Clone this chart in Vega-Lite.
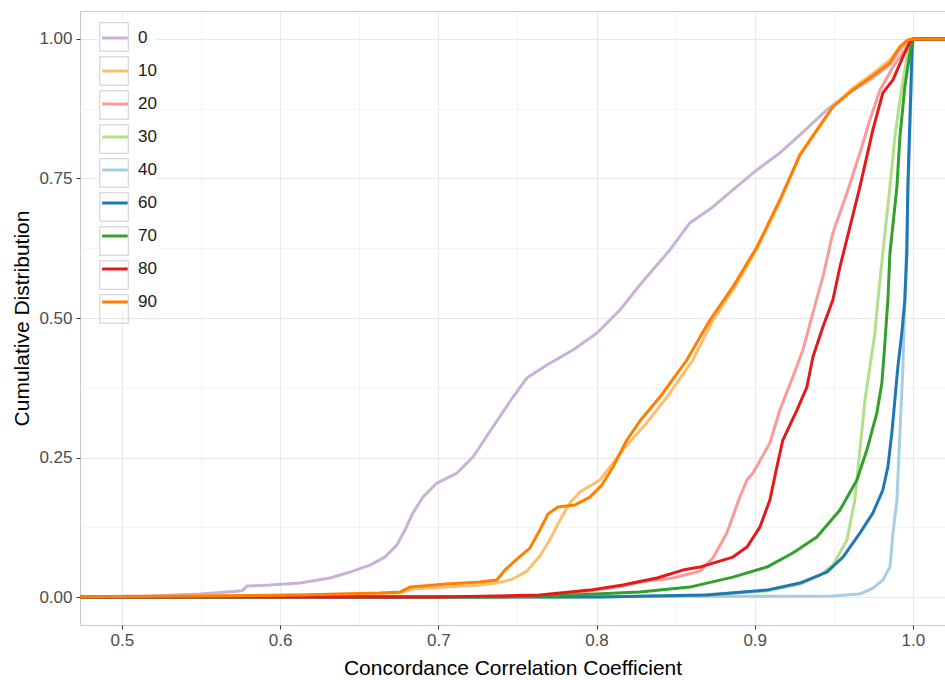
{
  "$schema": "https://vega.github.io/schema/vega-lite/v6.json",
  "autosize": "none",
  "width": 865,
  "height": 614,
  "padding": {"left": 80, "top": 11, "right": 0, "bottom": 55},
  "background": "white",
  "config": {
    "font": "Liberation Sans",
    "view": {"stroke": "#c8c8c8", "strokeWidth": 1}
  },
  "datasets": {
    "ecdf": [
      {"g":"0","x":0.45,"y":0},{"g":"0","x":0.5177,"y":0.0018},{"g":"0","x":0.5493,"y":0.0054},{"g":"0","x":0.5746,"y":0.0108},{"g":"0","x":0.5765,"y":0.0125},{"g":"0","x":0.579,"y":0.0197},{"g":"0","x":0.5936,"y":0.0215},{"g":"0","x":0.6125,"y":0.0251},{"g":"0","x":0.6315,"y":0.0341},{"g":"0","x":0.6441,"y":0.0448},{"g":"0","x":0.6568,"y":0.0573},{"g":"0","x":0.6662,"y":0.0717},{"g":"0","x":0.6738,"y":0.0932},{"g":"0","x":0.6789,"y":0.1201},{"g":"0","x":0.6839,"y":0.1505},{"g":"0","x":0.6903,"y":0.1792},{"g":"0","x":0.6991,"y":0.2043},{"g":"0","x":0.7118,"y":0.2222},{"g":"0","x":0.7219,"y":0.2509},{"g":"0","x":0.7345,"y":0.3047},{"g":"0","x":0.7472,"y":0.3584},{"g":"0","x":0.756,"y":0.3925},{"g":"0","x":0.7686,"y":0.4158},{"g":"0","x":0.7851,"y":0.4427},{"g":"0","x":0.8003,"y":0.4731},{"g":"0","x":0.8148,"y":0.5143},{"g":"0","x":0.8274,"y":0.5591},{"g":"0","x":0.8464,"y":0.6219},{"g":"0","x":0.859,"y":0.6703},{"g":"0","x":0.8736,"y":0.6989},{"g":"0","x":0.8862,"y":0.7294},{"g":"0","x":0.9014,"y":0.7652},{"g":"0","x":0.9159,"y":0.7957},{"g":"0","x":0.9286,"y":0.828},{"g":"0","x":0.9456,"y":0.8728},{"g":"0","x":0.9602,"y":0.905},{"g":"0","x":0.9728,"y":0.9265},{"g":"0","x":0.9855,"y":0.9534},{"g":"0","x":0.9918,"y":0.9803},{"g":"0","x":0.9981,"y":0.9982},{"g":"0","x":1.0,"y":1.0},{"g":"0","x":1.05,"y":1.0},

      {"g":"10","x":0.45,"y":0},{"g":"10","x":0.5493,"y":0.0018},{"g":"10","x":0.6125,"y":0.0036},{"g":"10","x":0.6757,"y":0.0072},{"g":"10","x":0.6839,"y":0.0143},{"g":"10","x":0.7054,"y":0.0179},{"g":"10","x":0.7263,"y":0.0215},{"g":"10","x":0.737,"y":0.0251},{"g":"10","x":0.7472,"y":0.0323},{"g":"10","x":0.756,"y":0.0466},{"g":"10","x":0.7642,"y":0.0735},{"g":"10","x":0.7705,"y":0.1022},{"g":"10","x":0.7769,"y":0.138},{"g":"10","x":0.7832,"y":0.1685},{"g":"10","x":0.7895,"y":0.1882},{"g":"10","x":0.7958,"y":0.1989},{"g":"10","x":0.8021,"y":0.2097},{"g":"10","x":0.8104,"y":0.2401},{"g":"10","x":0.8192,"y":0.2724},{"g":"10","x":0.8306,"y":0.3082},{"g":"10","x":0.8445,"y":0.3584},{"g":"10","x":0.8609,"y":0.4247},{"g":"10","x":0.8729,"y":0.4928},{"g":"10","x":0.8875,"y":0.5556},{"g":"10","x":0.902,"y":0.6272},{"g":"10","x":0.9159,"y":0.7079},{"g":"10","x":0.9286,"y":0.7921},{"g":"10","x":0.9381,"y":0.8315},{"g":"10","x":0.9494,"y":0.8781},{"g":"10","x":0.9621,"y":0.9122},{"g":"10","x":0.976,"y":0.941},{"g":"10","x":0.9855,"y":0.9624},{"g":"10","x":0.9918,"y":0.9857},{"g":"10","x":0.9968,"y":0.9982},{"g":"10","x":1.0,"y":1.0},{"g":"10","x":1.05,"y":1.0},

      {"g":"20","x":0.45,"y":0},{"g":"20","x":0.701,"y":0},{"g":"20","x":0.7642,"y":0.0018},{"g":"20","x":0.7958,"y":0.0108},{"g":"20","x":0.8167,"y":0.0197},{"g":"20","x":0.8274,"y":0.0269},{"g":"20","x":0.8483,"y":0.0341},{"g":"20","x":0.8654,"y":0.0466},{"g":"20","x":0.8736,"y":0.0699},{"g":"20","x":0.8824,"y":0.1147},{"g":"20","x":0.8906,"y":0.1792},{"g":"20","x":0.8951,"y":0.2097},{"g":"20","x":0.8989,"y":0.2222},{"g":"20","x":0.9096,"y":0.276},{"g":"20","x":0.9159,"y":0.3351},{"g":"20","x":0.9241,"y":0.3943},{"g":"20","x":0.9305,"y":0.4427},{"g":"20","x":0.9368,"y":0.509},{"g":"20","x":0.9431,"y":0.5735},{"g":"20","x":0.9494,"y":0.6523},{"g":"20","x":0.9583,"y":0.724},{"g":"20","x":0.9665,"y":0.7957},{"g":"20","x":0.9728,"y":0.8548},{"g":"20","x":0.9792,"y":0.9086},{"g":"20","x":0.9874,"y":0.9498},{"g":"20","x":0.9949,"y":0.9803},{"g":"20","x":0.9994,"y":0.9982},{"g":"20","x":1.0,"y":1.0},{"g":"20","x":1.05,"y":1.0},

      {"g":"30","x":0.45,"y":0},{"g":"30","x":0.8021,"y":0},{"g":"30","x":0.8654,"y":0.0036},{"g":"30","x":0.9077,"y":0.0108},{"g":"30","x":0.9286,"y":0.0233},{"g":"30","x":0.9412,"y":0.0394},{"g":"30","x":0.9494,"y":0.0573},{"g":"30","x":0.9583,"y":0.1022},{"g":"30","x":0.9633,"y":0.1738},{"g":"30","x":0.9665,"y":0.2634},{"g":"30","x":0.9697,"y":0.353},{"g":"30","x":0.9728,"y":0.4122},{"g":"30","x":0.976,"y":0.4731},{"g":"30","x":0.9779,"y":0.5323},{"g":"30","x":0.981,"y":0.6165},{"g":"30","x":0.9855,"y":0.7348},{"g":"30","x":0.9886,"y":0.8244},{"g":"30","x":0.993,"y":0.914},{"g":"30","x":0.9968,"y":0.9749},{"g":"30","x":1.0,"y":1.0},{"g":"30","x":1.05,"y":1.0},

      {"g":"40","x":0.45,"y":0},{"g":"40","x":0.9494,"y":0.0018},{"g":"40","x":0.9665,"y":0.0054},{"g":"40","x":0.9747,"y":0.0161},{"g":"40","x":0.981,"y":0.0305},{"g":"40","x":0.9855,"y":0.0538},{"g":"40","x":0.9874,"y":0.1147},{"g":"40","x":0.9899,"y":0.1738},{"g":"40","x":0.9918,"y":0.2939},{"g":"40","x":0.9937,"y":0.4122},{"g":"40","x":0.9949,"y":0.5323},{"g":"40","x":0.9968,"y":0.7115},{"g":"40","x":0.9987,"y":0.8907},{"g":"40","x":1.0,"y":1.0},{"g":"40","x":1.05,"y":1.0},

      {"g":"60","x":0.45,"y":0},{"g":"60","x":0.8021,"y":0},{"g":"60","x":0.8698,"y":0.0036},{"g":"60","x":0.9077,"y":0.0125},{"g":"60","x":0.9286,"y":0.0251},{"g":"60","x":0.9456,"y":0.0448},{"g":"60","x":0.9558,"y":0.0717},{"g":"60","x":0.9665,"y":0.1147},{"g":"60","x":0.9747,"y":0.1505},{"g":"60","x":0.981,"y":0.1918},{"g":"60","x":0.9842,"y":0.233},{"g":"60","x":0.9867,"y":0.2939},{"g":"60","x":0.9886,"y":0.353},{"g":"60","x":0.9905,"y":0.4122},{"g":"60","x":0.993,"y":0.4731},{"g":"60","x":0.9949,"y":0.5323},{"g":"60","x":0.9962,"y":0.6165},{"g":"60","x":0.9968,"y":0.7348},{"g":"60","x":0.9981,"y":0.8548},{"g":"60","x":0.9994,"y":0.9749},{"g":"60","x":1.0,"y":1.0},{"g":"60","x":1.05,"y":1.0},

      {"g":"70","x":0.45,"y":0},{"g":"70","x":0.739,"y":0},{"g":"70","x":0.7851,"y":0.0036},{"g":"70","x":0.8274,"y":0.009},{"g":"70","x":0.859,"y":0.0179},{"g":"70","x":0.8862,"y":0.0358},{"g":"70","x":0.9077,"y":0.0538},{"g":"70","x":0.9241,"y":0.0789},{"g":"70","x":0.9393,"y":0.1075},{"g":"70","x":0.9539,"y":0.1559},{"g":"70","x":0.9646,"y":0.2097},{"g":"70","x":0.9709,"y":0.2634},{"g":"70","x":0.9772,"y":0.3297},{"g":"70","x":0.9804,"y":0.3835},{"g":"70","x":0.9823,"y":0.4552},{"g":"70","x":0.9842,"y":0.5323},{"g":"70","x":0.9855,"y":0.6165},{"g":"70","x":0.9899,"y":0.7348},{"g":"70","x":0.9918,"y":0.8244},{"g":"70","x":0.9949,"y":0.914},{"g":"70","x":0.9981,"y":0.9749},{"g":"70","x":1.0,"y":1.0},{"g":"70","x":1.05,"y":1.0},

      {"g":"80","x":0.45,"y":0},{"g":"80","x":0.701,"y":0},{"g":"80","x":0.7642,"y":0.0036},{"g":"80","x":0.7958,"y":0.0125},{"g":"80","x":0.8167,"y":0.0215},{"g":"80","x":0.8382,"y":0.0341},{"g":"80","x":0.8546,"y":0.0484},{"g":"80","x":0.8654,"y":0.0538},{"g":"80","x":0.8862,"y":0.0717},{"g":"80","x":0.8951,"y":0.0896},{"g":"80","x":0.9033,"y":0.1254},{"g":"80","x":0.9096,"y":0.1738},{"g":"80","x":0.914,"y":0.233},{"g":"80","x":0.9178,"y":0.2814},{"g":"80","x":0.9267,"y":0.3351},{"g":"80","x":0.933,"y":0.3763},{"g":"80","x":0.9368,"y":0.4301},{"g":"80","x":0.9431,"y":0.4839},{"g":"80","x":0.9494,"y":0.5323},{"g":"80","x":0.9539,"y":0.5914},{"g":"80","x":0.9602,"y":0.6631},{"g":"80","x":0.9665,"y":0.7348},{"g":"80","x":0.9747,"y":0.8369},{"g":"80","x":0.981,"y":0.9032},{"g":"80","x":0.9874,"y":0.9265},{"g":"80","x":0.9937,"y":0.9677},{"g":"80","x":0.9981,"y":0.9946},{"g":"80","x":1.0,"y":1.0},{"g":"80","x":1.05,"y":1.0},

      {"g":"90","x":0.45,"y":0},{"g":"90","x":0.5493,"y":0.0018},{"g":"90","x":0.6125,"y":0.0036},{"g":"90","x":0.6631,"y":0.0072},{"g":"90","x":0.6757,"y":0.009},{"g":"90","x":0.682,"y":0.0179},{"g":"90","x":0.7054,"y":0.0233},{"g":"90","x":0.7263,"y":0.0269},{"g":"90","x":0.737,"y":0.0305},{"g":"90","x":0.7421,"y":0.0484},{"g":"90","x":0.7497,"y":0.0681},{"g":"90","x":0.7579,"y":0.0878},{"g":"90","x":0.7642,"y":0.1201},{"g":"90","x":0.7693,"y":0.1487},{"g":"90","x":0.7756,"y":0.1613},{"g":"90","x":0.7863,"y":0.1649},{"g":"90","x":0.7958,"y":0.1792},{"g":"90","x":0.8034,"y":0.2007},{"g":"90","x":0.8104,"y":0.233},{"g":"90","x":0.8192,"y":0.2814},{"g":"90","x":0.8274,"y":0.3154},{"g":"90","x":0.8401,"y":0.3584},{"g":"90","x":0.8571,"y":0.4247},{"g":"90","x":0.8717,"y":0.4964},{"g":"90","x":0.8862,"y":0.5556},{"g":"90","x":0.9014,"y":0.6272},{"g":"90","x":0.9159,"y":0.7115},{"g":"90","x":0.9286,"y":0.7921},{"g":"90","x":0.9381,"y":0.8315},{"g":"90","x":0.9494,"y":0.8781},{"g":"90","x":0.9621,"y":0.9086},{"g":"90","x":0.9772,"y":0.9391},{"g":"90","x":0.9855,"y":0.957},{"g":"90","x":0.9918,"y":0.9857},{"g":"90","x":0.9968,"y":0.9982},{"g":"90","x":1.0,"y":1.0},{"g":"90","x":1.05,"y":1.0}
    ]
  },
  "data": {"name": "ecdf"},
  "encoding": {
    "x": {
      "field": "x", "type": "quantitative",
      "scale": {"domain": [0.4735, 1.0203], "nice": false, "zero": false},
      "axis": {
        "title": "Concordance Correlation Coefficient",
        "values": [0.5,0.55,0.6,0.65,0.7,0.75,0.8,0.85,0.9,0.95,1.0],
        "labelExpr": "round(datum.value*100) % 10 == 0 ? format(datum.value, '.1f') : ''",
        "domain": false,
        "tickSize": 4,
        "tickColor": "#333333",
        "tickOpacity": {"condition": {"test": "round(datum.value*100) % 10 != 0", "value": 0}, "value": 1},
        "gridColor": {"condition": {"test": "round(datum.value*100) % 10 != 0", "value": "#f3f3f3"}, "value": "#e8e8e8"},
        "gridWidth": 1,
        "labelFontSize": 17,
        "labelColor": "#4d4d4d",
        "labelPadding": 3,
        "labelFlush": false,
        "titleFontSize": 21,
        "titleFontWeight": "normal",
        "titleColor": "#000000",
        "titlePadding": 9
      }
    },
    "y": {
      "field": "y", "type": "quantitative",
      "scale": {"domain": [-0.05, 1.05], "nice": false, "zero": false},
      "axis": {
        "title": "Cumulative Distribution",
        "values": [0,0.125,0.25,0.375,0.5,0.625,0.75,0.875,1.0],
        "labelExpr": "round(datum.value*1000) % 250 == 0 ? format(datum.value, '.2f') : ''",
        "domain": false,
        "tickSize": 4,
        "tickColor": "#333333",
        "tickOpacity": {"condition": {"test": "round(datum.value*1000) % 250 != 0", "value": 0}, "value": 1},
        "gridColor": {"condition": {"test": "round(datum.value*1000) % 250 != 0", "value": "#f3f3f3"}, "value": "#e8e8e8"},
        "gridWidth": 1,
        "labelFontSize": 17,
        "labelColor": "#4d4d4d",
        "labelPadding": 4,
        "labelFlush": false,
        "titleFontSize": 21,
        "titleFontWeight": "normal",
        "titleColor": "#000000",
        "titlePadding": 6
      }
    }
  },
  "layer": [
    {
      "mark": {"type": "line", "clip": true, "strokeWidth": 3, "strokeJoin": "round"},
      "encoding": {
        "color": {
          "field": "g", "type": "nominal",
          "scale": {
            "domain": ["0","10","20","30","40","60","70","80","90"],
            "range": ["#cab2d6","#fdbf6f","#fb9a99","#b2df8a","#a6cee3","#1f78b4","#33a02c","#e31a1c","#ff7f00"]
          },
          "legend": {
            "title": null,
            "orient": "none",
            "legendX": 17,
            "legendY": 9,
            "padding": 0,
            "symbolType": "M-0.78,0L0.78,0",
            "symbolSize": 1089,
            "symbolStrokeWidth": 3,
            "rowPadding": 7,
            "labelFontSize": 17,
            "labelColor": "#1a1a1a",
            "labelOffset": 5,
            "fillColor": "white",
            "zindex": 1
          }
        }
      }
    },
    {
      "transform": [{"filter": "false"}],
      "mark": {"type": "point", "filled": false, "color": "#cccccc", "strokeWidth": 1, "size": 812, "opacity": 1},
      "encoding": {
        "shape": {
          "field": "g", "type": "nominal",
          "scale": {
            "domain": ["90","80","70","60","40","30","20","10","0"],
            "range": ["square","square","square","square","square","square","square","square","square"]
          },
          "legend": {
            "title": null,
            "orient": "none",
            "legendX": 19,
            "legendY": 11,
            "padding": 0,
            "symbolSize": 812,
            "symbolStrokeColor": "#cccccc",
            "symbolFillColor": "transparent",
            "symbolStrokeWidth": 1,
            "symbolOpacity": 1,
            "rowPadding": 0,
            "labelExpr": "''",
            "labelFontSize": 1,
            "labelOffset": 0,
            "labelLimit": 1,
            "zindex": 2
          }
        }
      }
    }
  ]
}
